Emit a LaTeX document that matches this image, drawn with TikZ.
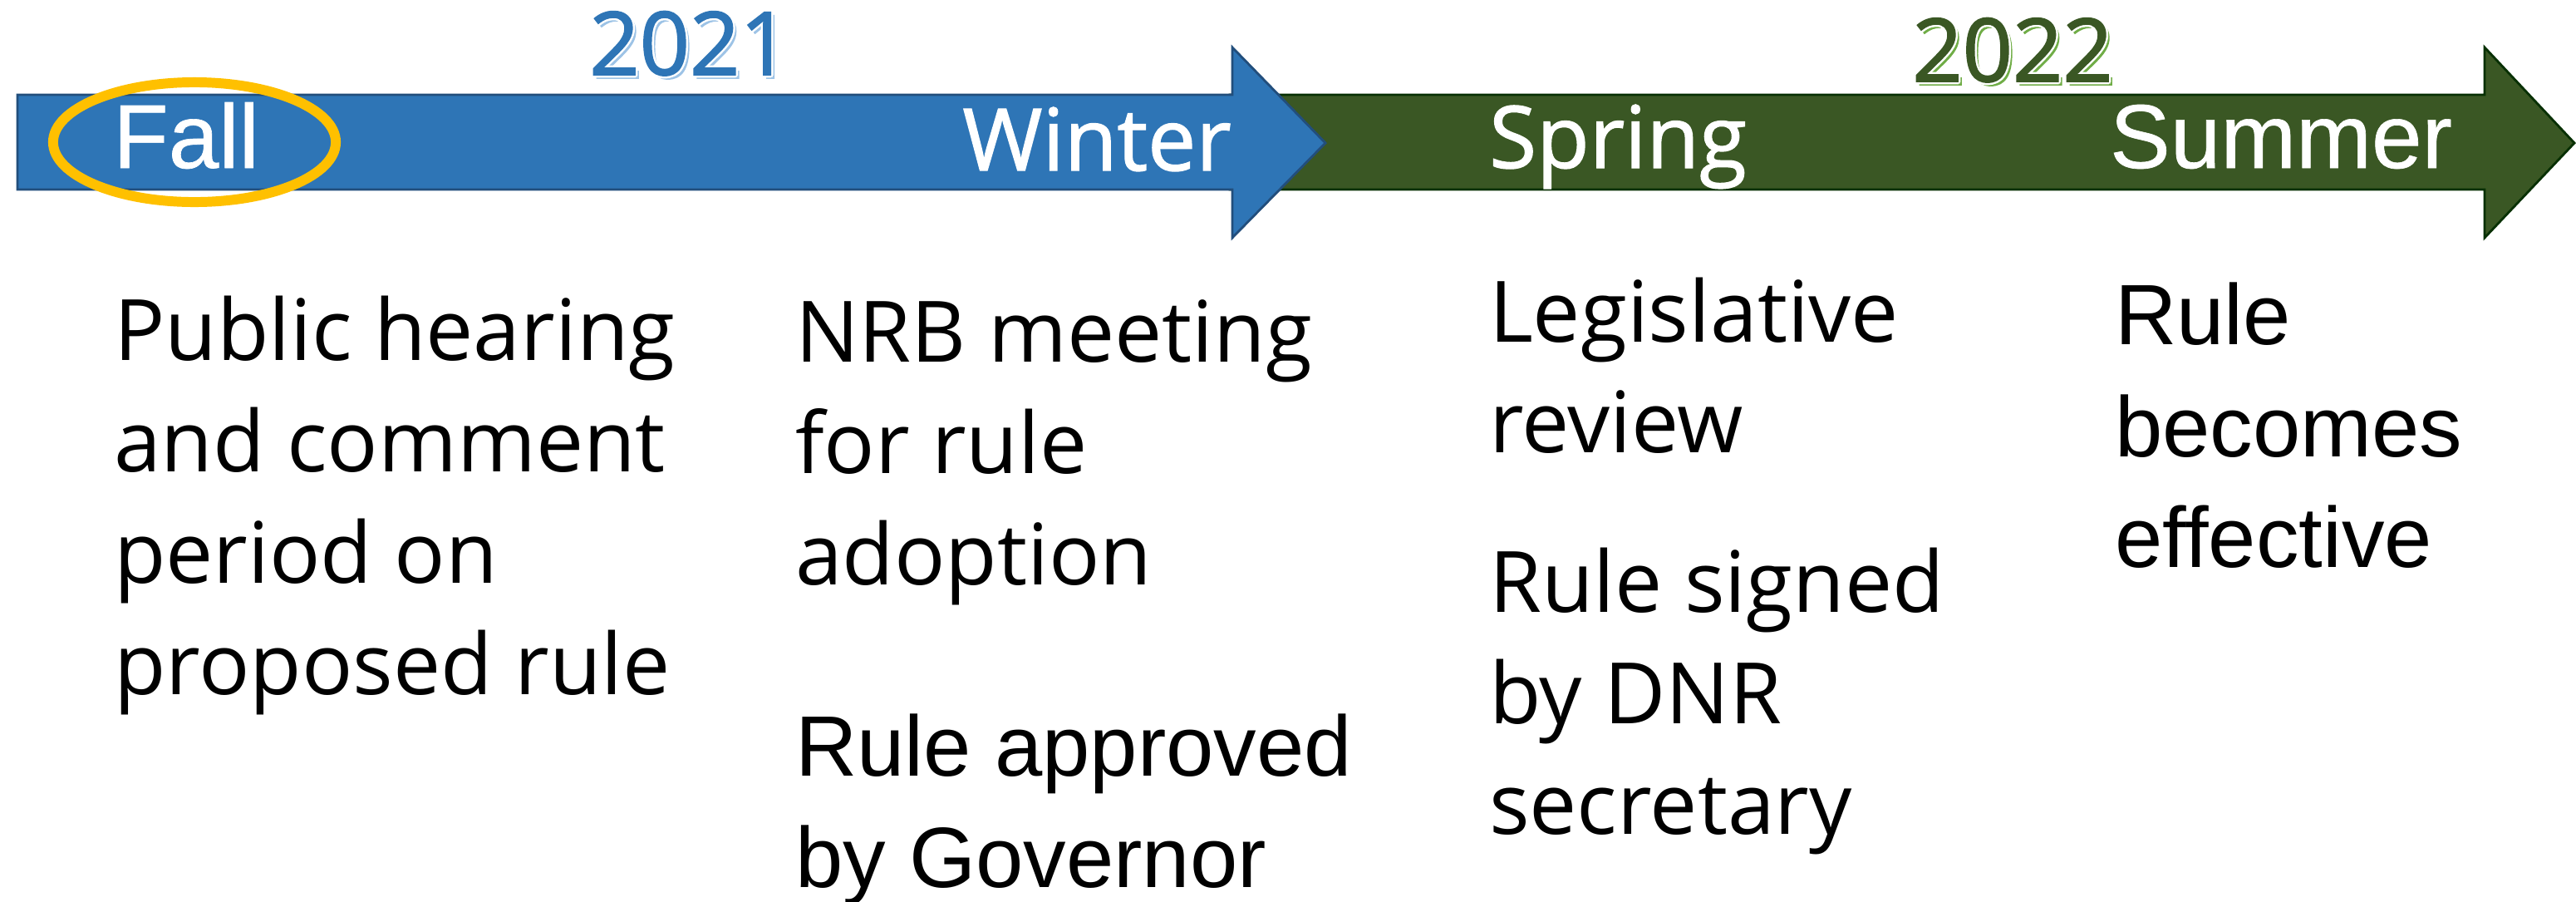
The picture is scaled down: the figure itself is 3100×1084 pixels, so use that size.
\documentclass[tikz,border=0pt]{standalone}
\usepackage{fontspec}
\newfontfamily\arialf{Liberation Sans}
\newfontfamily\frankf{Open Sans}
\newfontfamily\frankb[FakeBold=1.3]{Open Sans}
\newfontfamily\arialb[FakeBold=0.6]{Liberation Sans}
\newfontfamily\yearf[FakeBold=1.6]{Open Sans}
\definecolor{bluefill}{RGB}{46,117,182}
\definecolor{blueline}{RGB}{34,78,124}
\definecolor{greenfill}{RGB}{58,87,36}
\definecolor{greenline}{RGB}{8,48,4}
\definecolor{lightblue}{RGB}{157,195,230}
\definecolor{lightgreen}{RGB}{112,173,71}
\definecolor{ringcol}{RGB}{255,192,0}
\tikzset{
  bluearrow/.style={fill=bluefill,draw=blueline,line width=0.8pt,line join=miter},
  greenarrow/.style={fill=greenfill,draw=greenline,line width=0.8pt,line join=miter},
  ring/.style={draw=ringcol,line width=3.4pt},
  txt/.style={inner sep=0pt,outer sep=0pt,anchor=base west},
  abody/.style={txt,font=\arialf\fontsize{29.3pt}{38pt}\selectfont},
  fbody/.style={txt,font=\frankf\fontsize{29pt}{38pt}\selectfont},
  alabel/.style={inner sep=0pt,anchor=base,text=white,font=\arialb\fontsize{31pt}{36pt}\selectfont},
  flabel/.style={inner sep=0pt,anchor=base,text=white,font=\frankb\fontsize{29.5pt}{36pt}\selectfont},
  yearfont/.style={inner sep=0pt,anchor=base,font=\yearf\fontsize{30pt}{36pt}\selectfont}
}
\begin{document}
\begin{tikzpicture}[x=0.01cm,y=-0.01cm]
\useasboundingbox (0,0) rectangle (3100,1084);
% arrows
\draw[greenarrow] (1480,114) -- (2990,114) -- (2990,57) -- (3098,172) -- (2990,286) -- (2990,228) -- (1480,228) -- cycle;
\draw[bluearrow] (21,114) -- (1483,114) -- (1483,57) -- (1595,172) -- (1483,286) -- (1483,228) -- (21,228) -- cycle;
% years
\node[yearfont,text=lightblue] (y21s) at (834,94) {2021};
\foreach \dx/\dy in {-2.5/0,2.5/0,0/-2.5,0/2.5,-1.8/-1.8,1.8/-1.8,-1.8/1.8,1.8/1.8}
  \node[yearfont,text=white] at (830+\dx,90+\dy) {2021};
\node[yearfont,text=bluefill] (y21) at (830,90) {2021};
\node[yearfont,text=lightgreen] (y22s) at (2426,102) {2022};
\foreach \dx/\dy in {-2.5/0,2.5/0,0/-2.5,0/2.5,-1.8/-1.8,1.8/-1.8,-1.8/1.8,1.8/1.8}
  \node[yearfont,text=white] at (2422+\dx,98+\dy) {2022};
\node[yearfont,text=greenfill] (y22) at (2422,98) {2022};
% season labels
\node[alabel] (fall) at (224,202) {Fall};
\node[flabel] (winter) at (1320,205) {Winter};
\node[flabel] (spring) at (1947,202) {Spring};
\node[alabel] (summer) at (2745,202) {Summer};
% highlight ring
\draw[ring] (234,171) ellipse [x radius=1.70cm, y radius=0.72cm];
% column 1
\node[fbody] (c1a) at (137,433) {Public hearing};
\node[fbody] (c1b) at (137,567) {and comment};
\node[fbody] (c1c) at (137,701) {period on};
\node[fbody] (c1d) at (137,835) {proposed rule};
% column 2
\node[fbody] (c2a) at (957,435) {NRB meeting};
\node[fbody] (c2b) at (957,569) {for rule};
\node[fbody] (c2c) at (957,703) {adoption};
\node[abody] (c2d) at (957,933) {Rule approved};
\node[abody] (c2e) at (957,1067) {by Governor};
% column 3
\node[fbody] (c3a) at (1792,411) {Legislative};
\node[fbody] (c3b) at (1792,544) {review};
\node[fbody] (c3c) at (1792,736) {Rule signed};
\node[fbody] (c3d) at (1792,870) {by DNR};
\node[fbody] (c3e) at (1792,1003) {secretary};
% column 4
\node[abody] (c4a) at (2545,414) {Rule};
\node[abody] (c4b) at (2545,549) {becomes};
\node[abody] (c4c) at (2545,682) {effective};
\end{tikzpicture}
\end{document}
